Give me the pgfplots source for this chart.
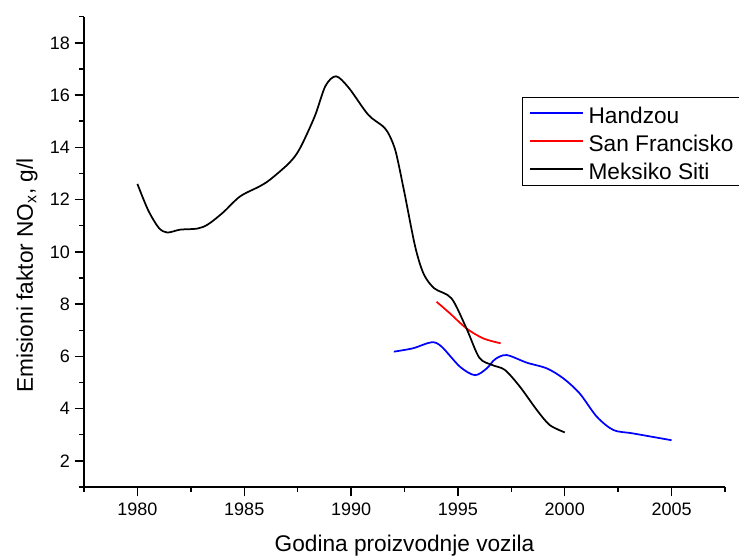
\documentclass[border=0pt]{standalone}
\usepackage{fontspec}
\setmainfont{Liberation Sans}
\usepackage{pgfplots}
\pgfplotsset{compat=1.18}

\begin{document}
\begin{tikzpicture}
\begin{axis}[
    scale only axis,
    width=480.75pt, height=352.7pt,
    xmin=1977.5, xmax=2007.5,
    ymin=1, ymax=19,
    axis lines*=left,
    axis line style={line width=1.1pt},
    tick pos=left,
    tick align=outside,
    xtick={1980,1985,...,2005},
    minor xtick={1977.5,1982.5,...,2007.5},
    ytick={2,4,...,18},
    minor ytick={1,3,...,19},
    major tick length=7pt,
    minor tick length=3.8pt,
    every tick/.style={black, line width=1.1pt},
    /pgf/number format/assume math mode=true,
    /pgf/number format/set thousands separator={},
    tick label style={font=\fontsize{13.5}{15}\selectfont},
    xticklabel style={yshift=-1.5pt},
    label style={font=\fontsize{17}{20}\selectfont},
    xlabel={Godina proizvodnje vozila},
    ylabel={Emisioni faktor NO\textsubscript{x}, g/l},
    xlabel style={at={(axis description cs:0.5,-0.138)}, anchor=base},
    ylabel style={at={(axis description cs:-0.089,0.45)}, anchor=center},
    legend style={at={(axis description cs:0.683,0.830)}, anchor=north west,
        draw=black, line width=0.6pt, inner xsep=5.5pt, inner ysep=1.5pt,
        font=\fontsize{17}{20}\selectfont,
        nodes={inner sep=0pt, text height=18.5pt, text depth=2.5pt},
        column sep=3.5pt, row sep=0pt},
    legend cell align=left,
    legend image code/.code={\draw[#1, line width=1.3pt] (0pt,0pt) -- (39.5pt,0pt);},
]
% Handzou
\addplot[blue, line width=1.3pt, smooth] coordinates {
    (1992,6.18) (1992.9,6.31) (1993.77,6.54) (1994.24,6.37) (1995.1,5.6)
    (1995.8,5.28) (1996.35,5.54) (1996.74,5.89) (1997.28,6.05) (1998.22,5.76)
    (1999.16,5.54) (1999.93,5.16) (2000.7,4.58) (2001.5,3.69) (2002.28,3.18)
    (2003.2,3.05) (2005,2.79)
};
% San Francisko
\addplot[red, line width=1.3pt, smooth] coordinates {
    (1994,8.09) (1994.62,7.65) (1995.4,7.07) (1996.18,6.69) (1997,6.5)
};
% Meksiko Siti
\addplot[black, line width=1.3pt, smooth] coordinates {
    (1980,12.6) (1980.5,11.6) (1981,10.92) (1981.4,10.74) (1982,10.85)
    (1982.8,10.89) (1983.3,11.05) (1984,11.5) (1984.8,12.12) (1985.7,12.5)
    (1986.2,12.76) (1987.1,13.4) (1987.6,13.95) (1988.3,15.19) (1988.8,16.35)
    (1989.3,16.72) (1989.9,16.27) (1990.8,15.25) (1991.5,14.8) (1991.8,14.45)
    (1992.1,13.8) (1992.5,12.25) (1993,10.2) (1993.4,9.15) (1993.9,8.6)
    (1994.7,8.22) (1995.4,7.07) (1996,5.95) (1996.6,5.67) (1997.2,5.48)
    (1997.9,4.84) (1998.7,3.94) (1999.3,3.37) (2000,3.09)
};
\legend{Handzou, San Francisko, Meksiko Siti}
\end{axis}
\pgfresetboundingbox
\useasboundingbox (-63pt,-51.75pt) rectangle (491.25pt,365.25pt);
\end{tikzpicture}
\end{document}
